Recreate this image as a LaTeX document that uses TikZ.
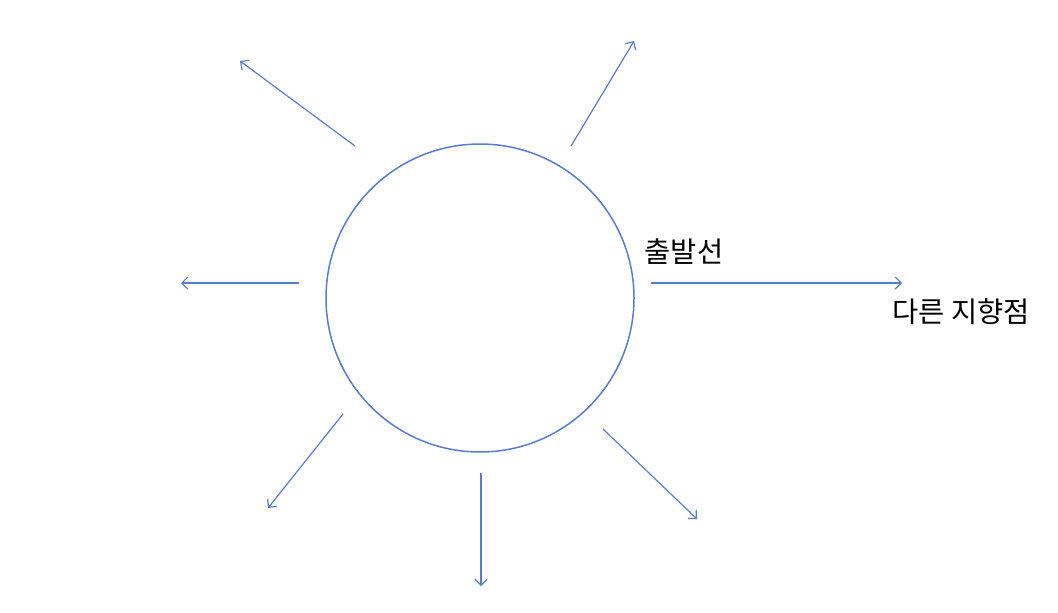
\documentclass[tikz,border=0pt]{standalone}
\usepackage{fontspec}
\newfontfamily\kr{Noto Sans CJK KR}
\usetikzlibrary{arrows.meta}
\definecolor{lineblue}{HTML}{5A7CC6}
\begin{document}
\begin{tikzpicture}[x=1pt,y=-1pt,
  ray/.style={draw=lineblue,line width=1.2pt,-{Straight Barb[length=6pt,width=12pt,line width=1.2pt]}},
  lbl/.style={font=\kr\fontsize{28.5}{32}\selectfont,inner sep=0pt}]
\useasboundingbox (0,0) rectangle (1058,613);
\node[draw=lineblue,line width=1.5pt,circle,minimum size=308pt,inner sep=0pt] (sun) at (480,298) {};
\coordinate (s1) at (355,146); \coordinate (e1) at (240,61);
\coordinate (s2) at (571,146); \coordinate (e2) at (634,41);
\coordinate (s3) at (299,283); \coordinate (e3) at (181,283);
\coordinate (s4) at (651,283); \coordinate (e4) at (902,283);
\coordinate (s5) at (343,414); \coordinate (e5) at (268,508);
\coordinate (s6) at (481,473); \coordinate (e6) at (481,586);
\coordinate (s7) at (603,429); \coordinate (e7) at (697,519);
\foreach \i in {1,...,7} \draw[ray] (s\i) -- (e\i);
\node[lbl] (start) at (684,252) {출발선};
\node[lbl] (goal) at (961,312) {다른 지향점};
\end{tikzpicture}
\end{document}
